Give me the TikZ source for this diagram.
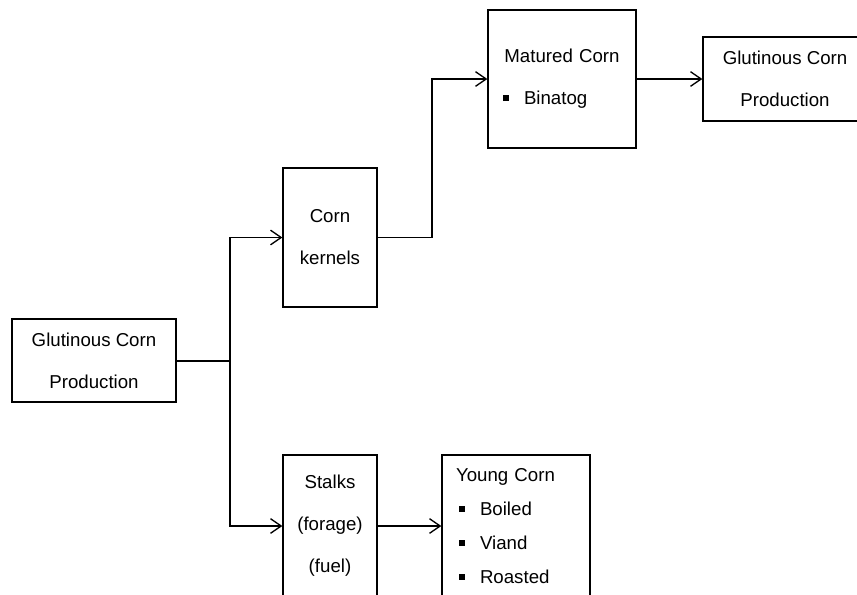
\documentclass[tikz,border=0pt]{standalone}
\usepackage{fontspec}
\setmainfont{Liberation Sans}
\usetikzlibrary{arrows.meta}
\newcommand{\sqbullet}{\rule[2.7pt]{4.5pt}{4.5pt}\hspace{11.25pt}}

\begin{document}
\begin{tikzpicture}[x=0.75pt, y=-0.75pt,
	box/.style={draw, line width=1pt, inner sep=0pt, align=center, font=\fontsize{14}{31.5}\selectfont},
	link/.style={line width=1pt, -{Straight Barb[length=8pt, width=11pt]}}]
			%%%%% START %%%%%
			\useasboundingbox (0, 0) rectangle (857, 594);
			\clip (0, 0) rectangle (857, 594);
			
			\node[box, minimum width=123pt, minimum height=62.25pt] (prodL) at (94, 360.5) {Glutinous Corn\\Production};
			
			\node[box, minimum width=70.5pt, minimum height=104.25pt] (kernels) at (330, 237.5) {Corn\\kernels};
			\node[box, minimum width=70.5pt, minimum height=106.5pt] (stalks) at (330, 526) {Stalks\\(forage)\\(fuel)};
			
			\node[box, minimum width=111pt, minimum height=103.5pt, text width=88.5pt, inner xsep=11.25pt, align=left] (matured) at (562, 79) {\makebox[\linewidth]{Matured Corn}\\\sqbullet Binatog};
			\node[box, minimum width=123pt, minimum height=63pt] (prodR) at (785, 79) {Glutinous Corn\\Production};
			
			\node[box, minimum width=111pt, minimum height=106.5pt, text width=90pt, inner xsep=10.5pt, align=left, font=\fontsize{14}{25.5}\selectfont] (young) at (516, 526) {Young Corn\\\hspace*{2.25pt}\sqbullet Boiled\\\hspace*{2.25pt}\sqbullet Viand\\\hspace*{2.25pt}\sqbullet Roasted};
			
			\coordinate (fork) at (230, 360.5);
			\coordinate (bend) at (432, 237.5);
			
			\draw[line width=1.5pt] (prodL.east) -- (fork);
			\draw[link] (fork) |- (kernels.west);
			\draw[link] (fork) |- (stalks.west);
			\draw[link] (kernels.east) -- (bend) |- (matured.west);
			\draw[link] (matured.east) -- (prodR.west);
			\draw[link] (stalks.east) -- (young.west);
			%%%%% END %%%%%
\end{tikzpicture}
\end{document}
